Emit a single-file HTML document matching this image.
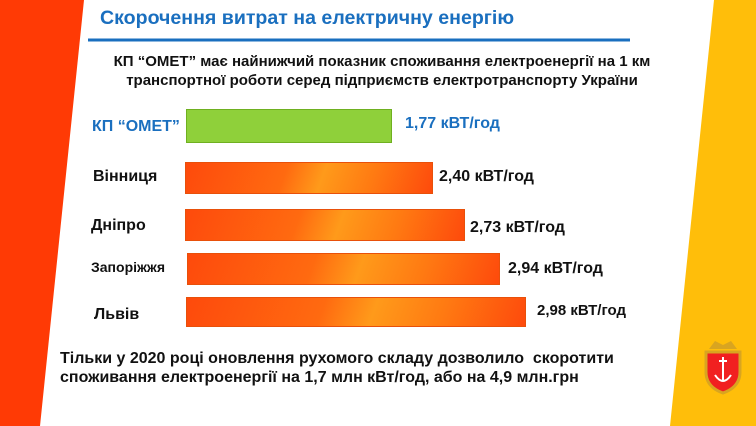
<!DOCTYPE html>
<html><head><meta charset="utf-8"><style>
body{margin:0;width:756px;height:426px;overflow:hidden;background:#fff;position:relative;font-family:"Liberation Sans","DejaVu Sans",sans-serif;}
.t{position:absolute;white-space:nowrap;font-weight:bold;}
.bar{position:absolute;background:linear-gradient(110deg,#fe4a0c 0%,#ff6a10 40%,#ff9a1a 55%,#ff7a12 75%,#fe4a0c 100%);border:1px solid #e8500a;box-sizing:border-box;}
.v{font-size:16px;color:#111;}
.l{font-size:16px;color:#111;}
</style></head><body>
<svg width="756" height="426" style="position:absolute;left:0;top:0">
<polygon points="0,0 84,0 40,426 0,426" fill="#ff3a05"/>
<polygon points="714,0 756,0 756,426 670,426" fill="#ffbe0a"/>
<line x1="88" y1="40" x2="630" y2="40" stroke="#1a6fbf" stroke-width="3"/>
<g transform="translate(723,367)">
<path d="M-17,-15 L17,-15 L17,5 Q17,20 0,26 Q-17,20 -17,5 Z" fill="#f12020" stroke="#d9a520" stroke-width="3"/>
<path d="M-14,-18 L-8,-26 L0,-22 L8,-26 L14,-18 Z" fill="#d9a520"/>
<path d="M0,-10 V14 M-8,8 Q0,20 8,8 M-4,-6 H4" stroke="#fff" stroke-width="2" fill="none"/>
</g>
</svg>
<div class="t" style="left:100px;top:8px;font-size:19px;color:#1a6fbf;transform:scaleX(1.03);transform-origin:left;">Скорочення витрат на електричну енергію</div>
<div class="t" style="left:0;width:756px;text-align:center;top:52px;font-size:15px;color:#111;line-height:19px;padding-left:8px;box-sizing:border-box;">КП “ОМЕТ” має найнижчий показник споживання електроенергії на 1 км<br>транспортної роботи серед підприємств електротранспорту України</div>
<div style="position:absolute;left:186px;top:109px;width:206px;height:34px;background:#8fd03a;border:1px solid #6fb020;box-sizing:border-box;"></div>
<div class="t" style="left:92px;top:118px;font-size:16px;color:#1a6fbf;">КП “ОМЕТ”</div>
<div class="t v" style="left:405px;top:115px;color:#1a6fbf;">1,77 кВТ/год</div>
<div class="bar" style="left:185px;top:162px;width:248px;height:32px;"></div>
<div class="t l" style="left:93px;top:168px;">Вінниця</div>
<div class="t v" style="left:439px;top:168px;">2,40 кВТ/год</div>
<div class="bar" style="left:185px;top:209px;width:280px;height:32px;"></div>
<div class="t l" style="left:91px;top:217px;">Дніпро</div>
<div class="t v" style="left:470px;top:219px;">2,73 кВТ/год</div>
<div class="bar" style="left:187px;top:253px;width:313px;height:32px;"></div>
<div class="t l" style="left:91px;top:259px;font-size:14px;">Запоріжжя</div>
<div class="t v" style="left:508px;top:260px;">2,94 кВТ/год</div>
<div class="bar" style="left:186px;top:297px;width:340px;height:30px;"></div>
<div class="t l" style="left:94px;top:306px;">Львів</div>
<div class="t v" style="left:537px;top:302px;font-size:15px;">2,98 кВТ/год</div>
<div class="t" style="left:60px;top:349px;font-size:16px;color:#111;line-height:19px;">Тільки у 2020 році оновлення рухомого складу дозволило &nbsp;скоротити<br>споживання електроенергії на 1,7 млн кВт/год, або на 4,9 млн.грн</div>
</body></html>
